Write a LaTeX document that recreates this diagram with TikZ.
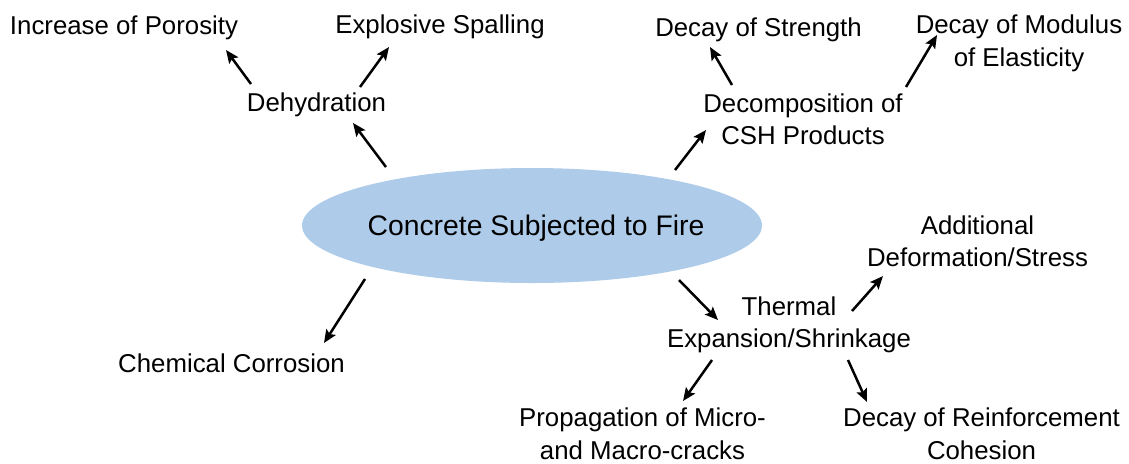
\documentclass[tikz,border=0pt]{standalone}
\usepackage{fontspec}
\setmainfont{Liberation Sans}
\usetikzlibrary{shapes.geometric,arrows.meta}
\definecolor{fireblue}{RGB}{174,204,233}
\tikzset{
    txt/.style={
           inner sep=0pt,
           anchor=base,
           align=center,
           font=\fontsize{12.9}{16.2}\selectfont
           },
    bubble/.style={
           ellipse,
           fill=fireblue,
           minimum width=230pt,
           minimum height=57.5pt,
           inner sep=0pt
           },
}

\begin{document}
\begin{tikzpicture}[->,>={Stealth[length=6.5pt,width=5.5pt,inset=1.2pt]},line width=1.25pt,x=0.5pt,y=-0.5pt]

             \useasboundingbox (0,0) rectangle (1129,463);

             % centre
             \node[bubble] (fire) at (532,225.5) {};
             \node[txt, font=\fontsize{14.15}{17}\selectfont] (firetext) at (536,235)
             {Concrete Subjected to Fire};

             % upper left
             \node[txt] (dehyd) at (316.5,111) {Dehydration};
             \node[txt] (poros) at (124,34) {Increase of Porosity};
             \node[txt] (spall) at (440,33) {Explosive Spalling};

             % upper right (base = last line)
             \node[txt] (csh) at (803,144.5)
             {Decomposition of\\
              CSH Products};
             \node[txt] (strength) at (758.5,36.5) {Decay of Strength};
             \node[txt] (modulus) at (1019,66)
             {Decay of Modulus\\
              of Elasticity};

             % lower left
             \node[txt] (corros) at (231.5,372) {Chemical Corrosion};

             % lower right
             \node[txt] (thermal) at (789,347.5)
             {Thermal\\
              Expansion/Shrinkage};
             \node[txt] (addit) at (977.5,266.8)
             {Additional\\
              Deformation/Stress};
             \node[txt] (propag) at (642.5,459)
             {Propagation of Micro-\\
              and Macro-cracks};
             \node[txt] (reinf) at (981.5,459)
             {Decay of Reinforcement\\
              Cohesion};

             \path
             ([shift={(-146,-58.5)}]fire.center) edge ([shift={(36.5,12)}]dehyd.base)
             ([shift={(-65.5,-27)}]dehyd.base)   edge ([shift={(102,16)}]poros.base)
             ([shift={(43.5,-24)}]dehyd.base)    edge ([shift={(-51,14)}]spall.base)
             ([shift={(143,-55.5)}]fire.center)  edge ([shift={(-97,-14.5)}]csh.base)
             ([shift={(-71,-59.5)}]csh.base)     edge ([shift={(-48.5,10.5)}]strength.base)
             ([shift={(103,-57.5)}]csh.base)     edge ([shift={(-82,-31)}]modulus.base)
             ([shift={(-167,53.5)}]fire.center)  edge ([shift={(92.5,-29)}]corros.base)
             ([shift={(147,54.5)}]fire.center)   edge ([shift={(-71,-27.5)}]thermal.base)
             ([shift={(63,-36.5)}]thermal.base)  edge ([shift={(-94.5,9.2)}]addit.base)
             ([shift={(-77,12.5)}]thermal.base)  edge ([shift={(40.5,-58)}]propag.base)
             ([shift={(59,12.5)}]thermal.base)   edge ([shift={(-114.5,-57)}]reinf.base)
             ;

\end{tikzpicture}
\end{document}
